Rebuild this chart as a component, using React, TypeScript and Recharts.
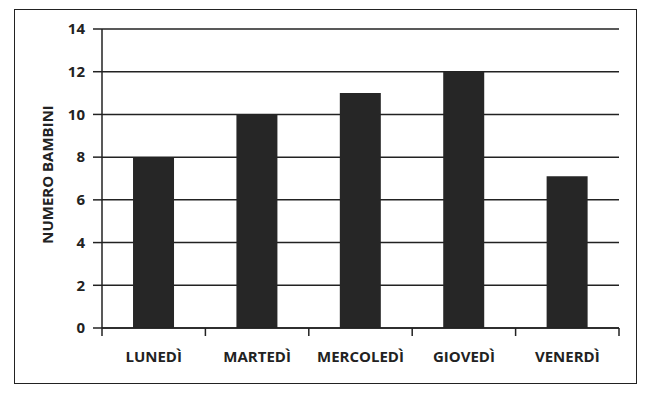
import React from 'react';
import { BarChart, Bar, XAxis, YAxis, CartesianGrid } from 'recharts';

const days = ['LUNEDÌ', 'MARTEDÌ', 'MERCOLEDÌ', 'GIOVEDÌ', 'VENERDÌ'];
const children = [8, 10, 11, 12, 7.1];
const yTicks = [0, 2, 4, 6, 8, 10, 12, 14];
const yTitle = 'NUMERO BAMBINI';

const data = days.map((d, i) => ({ day: d, value: children[i] }));

const FONT = '"Open Sans", sans-serif';
const INK = '#222222';
const X_TICK_GAP = 23;

const XTick = (props: any) => {
  const { x, y, payload, index, visibleTicksCount } = props;
  const half = payload && payload.offset ? payload.offset : 0;
  const axisY = y - X_TICK_GAP;
  const isLast = index === visibleTicksCount - 1;
  return (
    <g>
      <line x1={x - half} x2={x - half} y1={axisY} y2={axisY + 8} stroke={INK} strokeWidth={1.5} />
      {isLast && (
        <line x1={x + half} x2={x + half} y1={axisY} y2={axisY + 8} stroke={INK} strokeWidth={1.5} />
      )}
      <text x={x} y={y} dy="0.71em" textAnchor="middle" fontFamily={FONT} fontWeight={700} fontSize={15} fill={INK}>
        {payload.value}
      </text>
    </g>
  );
};

const YTitle = (props: any) => {
  const vb = props.viewBox || { x: 42, y: 29, width: 60, height: 298 };
  const cx = vb.x + 5;
  const cy = vb.y + vb.height / 2 - 4;
  return (
    <text
      x={cx}
      y={cy}
      transform={`rotate(-90, ${cx}, ${cy})`}
      textAnchor="middle"
      dominantBaseline="central"
      fontFamily={FONT}
      fontWeight={700}
      fontSize={15}
      fill={INK}
    >
      {yTitle}
    </text>
  );
};

export default function App() {
  return (
    <div style={{ position: 'absolute', left: 0, top: 0, width: 653, height: 396, background: '#fff' }}>
      <div
        style={{
          position: 'absolute',
          left: 14,
          top: 9,
          width: 623,
          height: 375,
          border: `1.5px solid ${INK}`,
          boxSizing: 'border-box',
        }}
      />
      <div style={{ position: 'absolute', left: 0, top: 0 }}>
        <BarChart
          width={653}
          height={396}
          data={data}
          margin={{ top: 29, right: 34, bottom: 28, left: 42 }}
          barCategoryGap="30%"
        >
          <CartesianGrid vertical={false} stroke={INK} strokeWidth={1.5} />
          <XAxis
            dataKey="day"
            height={40}
            axisLine={{ stroke: INK, strokeWidth: 1.5 }}
            tickLine={false}
            tickSize={0}
            tickMargin={X_TICK_GAP}
            interval={0}
            tick={<XTick />}
          />
          <YAxis
            width={60}
            domain={[0, 14]}
            ticks={yTicks}
            interval={0}
            axisLine={{ stroke: INK, strokeWidth: 1.5 }}
            tickLine={{ stroke: INK, strokeWidth: 1.5 }}
            tickSize={9}
            tickMargin={8}
            tick={{ fontFamily: FONT, fontWeight: 700, fontSize: 15, fill: INK }}
            label={<YTitle />}
          />
          <Bar dataKey="value" fill="#262626" isAnimationActive={false} />
        </BarChart>
      </div>
    </div>
  );
}
